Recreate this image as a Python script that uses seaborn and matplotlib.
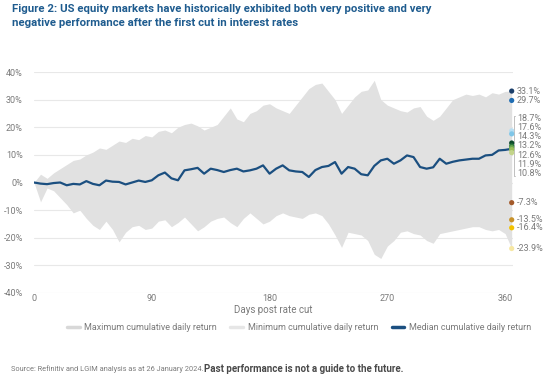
import numpy as np
import pandas as pd
import matplotlib.pyplot as plt
import seaborn as sns
from matplotlib.lines import Line2D

# %% data (cumulative return in %, by day after the cut)
days = list(range(0, 366, 5))
max_ret = [0, 3.0, 1.5, 3.5, 5.0, 6.5, 8.0, 8.5, 10.0, 11.0, 12.5, 12.0, 13.5, 15.0,
           14.5, 16.0, 15.5, 17.0, 16.5, 18.5, 19.0, 18.0, 20.0, 21.0, 21.5, 20.5,
           19.0, 20.0, 21.0, 24.0, 27.0, 23.0, 22.0, 25.0, 26.0, 28.0, 28.5, 27.0,
           26.0, 25.0, 28.0, 31.0, 34.0, 35.5, 36.0, 33.0, 30.0, 25.0, 28.0, 31.0,
           33.0, 33.5, 37.0, 30.0, 28.0, 27.0, 26.0, 25.5, 27.0, 27.5, 24.0, 22.5,
           24.0, 27.0, 30.0, 31.0, 32.0, 31.5, 32.0, 31.0, 32.5, 32.0, 33.0, 33.1]
min_ret = [0, -7.0, -2.0, -3.0, -5.5, -8.0, -11.0, -10.0, -13.0, -15.5, -17.0, -14.0,
           -17.0, -21.5, -18.0, -16.0, -15.5, -17.0, -16.5, -14.0, -13.5, -16.0, -14.5,
           -12.5, -15.0, -17.5, -16.0, -14.0, -13.0, -12.5, -14.5, -16.0, -13.0, -11.0,
           -13.0, -15.0, -14.0, -12.0, -11.0, -12.0, -12.5, -13.0, -11.5, -11.0, -12.0,
           -15.0, -19.0, -23.5, -18.0, -18.5, -19.0, -21.0, -26.0, -27.5, -23.0, -21.0,
           -18.0, -17.5, -18.5, -19.0, -21.0, -22.0, -18.5, -18.0, -17.5, -17.0, -16.5,
           -16.0, -16.0, -17.0, -17.5, -17.0, -18.5, -23.9]
med_ret = [0, -0.4, -0.6, -0.2, 0.0, -1.0, -0.5, -0.7, 0.5, -0.5, -1.0, 0.7, 0.3, 0.2,
           -0.7, 0.0, 0.7, 0.2, 0.8, 2.6, 3.6, 1.5, 0.8, 4.4, 4.8, 5.3, 3.2, 5.0, 4.5,
           3.8, 4.5, 5.0, 4.0, 4.4, 5.0, 6.2, 3.2, 5.0, 6.2, 4.4, 4.0, 3.8, 2.0, 4.5,
           5.6, 6.0, 7.4, 3.2, 5.6, 5.0, 3.0, 2.6, 6.0, 8.0, 8.6, 6.8, 8.0, 9.8, 9.2,
           5.6, 5.0, 5.5, 8.6, 6.8, 7.5, 8.0, 8.3, 8.6, 8.6, 9.8, 10.0, 11.6, 11.8, 12.2]

# final values of each episode
end_vals = [33.1, 29.7, 18.7, 17.6, 14.3, 13.2, 12.6, 11.9, 10.8, -7.3, -13.5, -16.4, -23.9]
end_colors = ['#1b3f6b', '#1f6db3', '#b7def2', '#7fc6e8', '#0d4a2b', '#2a7a3a',
              '#6aa84f', '#9cc05a', '#c3d48a', '#a35a2a', '#c8922a', '#f2c200', '#f6e7a3']

x_ticks = [0, 90, 180, 270, 360]
y_ticks = [-40, -30, -20, -10, 0, 10, 20, 30, 40]

df = pd.DataFrame({'day': days, 'max': max_ret, 'min': min_ret, 'median': med_ret})

# %%
sns.set_theme(style='white')
plt.rcParams['font.family'] = ['Roboto', 'DejaVu Sans']
grey = '#7a7a7a'
navy = '#1b4f80'
band = '#e1e1e1'

fig = plt.figure(figsize=(5.54, 3.82), dpi=100)
ax = fig.add_axes([34 / 554, 89 / 382, 479 / 554, 221 / 382])

ax.fill_between(df['day'], df['min'], df['max'], color=band, lw=0, zorder=2)
sns.lineplot(data=df, x='day', y='median', color=navy, lw=1.6, ax=ax, zorder=3)

ax.set_xlim(0, 366)
ax.set_ylim(-40, 40)
ax.set_xticks(x_ticks)
ax.set_yticks(y_ticks)
ax.set_yticklabels([f'{t}%' for t in y_ticks])
ax.tick_params(axis='both', length=0, labelsize=6.5, labelcolor=grey)
ax.tick_params(axis='y', pad=8)
ax.tick_params(axis='x', pad=1)
ax.set_xlabel('Days post rate cut', fontsize=7, color=grey, labelpad=1)
ax.set_ylabel('')
ax.grid(axis='y', color='#e8e8e8', lw=0.8, zorder=0)
ax.set_axisbelow(True)
sns.despine(ax=ax, left=True, bottom=True)

# end-point dots and labels
ax.scatter([365] * len(end_vals), end_vals, s=14, c=end_colors, zorder=5,
           clip_on=False, linewidths=0)
label_y = list(end_vals)
mid = list(range(2, 9))
spread = np.linspace(23.2, 3.3, len(mid))
for i, yy in zip(mid, spread):
    label_y[i] = yy
for v, yy in zip(end_vals, label_y):
    ax.text(369, yy, f'{v}%', fontsize=6.5, color=grey, va='center', ha='left',
            clip_on=False)
ax.plot([367.5, 366.5, 366.5, 367.5], [spread[0] + 0.8, spread[0] + 0.8,
        spread[-1] - 0.8, spread[-1] - 0.8], color='#b5b5b5', lw=0.6,
        clip_on=False, zorder=4)

# legend
handles = [Line2D([], [], color='#d8d8d8', lw=2.5),
           Line2D([], [], color='#e6e6e6', lw=2.5),
           Line2D([], [], color=navy, lw=2.5)]
labels = ['Maximum cumulative daily return', 'Minimum cumulative daily return',
          'Median cumulative daily return']
leg = fig.legend(handles, labels, loc='center', bbox_to_anchor=(299 / 554, 1 - 328 / 382),
                 ncol=3, frameon=False, fontsize=6.5, handlelength=1.4,
                 handletextpad=0.5, columnspacing=1.5, borderpad=0, borderaxespad=0)
for t in leg.get_texts():
    t.set_color(grey)

# title and footnote
title_font = ['Liberation Sans Narrow', 'Roboto', 'DejaVu Sans']
fig.text(12 / 554, 1 - 4 / 382,
         'Figure 2: US equity markets have historically exhibited both very positive and very\n'
         'negative performance after the first cut in interest rates',
         fontsize=8.2, fontweight='bold', color='#1f5c8f', family=title_font,
         va='top', ha='left', linespacing=1.55)
src = fig.text(11 / 554, 1 - 369 / 382,
               'Source: Refinitiv and LGIM analysis as at 26 January 2024.',
               fontsize=5.3, color=grey, va='center', ha='left')
fig.text(204 / 554, 1 - 369 / 382, 'Past performance is not a guide to the future.',
         fontsize=7, fontweight='bold', color='#4a4a4a', family=title_font,
         va='center', ha='left')

fig.savefig('out.png', dpi=100)
